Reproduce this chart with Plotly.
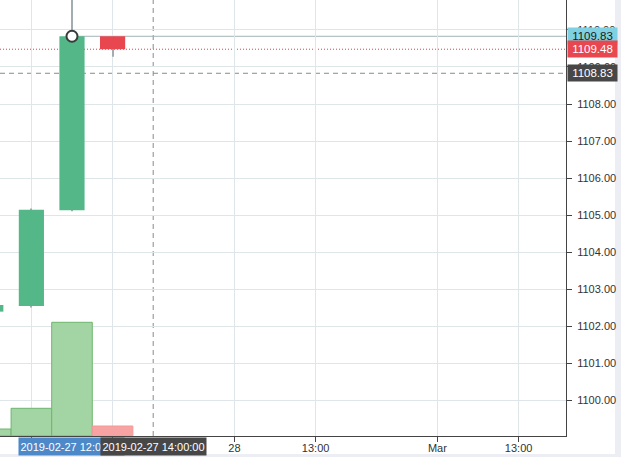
import plotly.graph_objects as go

# ---- data ----
times = ["2019-02-27 10:00:00", "2019-02-27 11:00:00", "2019-02-27 12:00:00", "2019-02-27 13:00:00"]
pos = [-2, -1, 0, 1]
opens = [1102.39, 1102.54, 1105.13, 1109.83]
highs = [1102.60, 1105.18, 1111.50, 1109.83]
lows = [1102.37, 1102.50, 1105.10, 1109.28]
closes = [1102.57, 1105.14, 1109.83, 1109.48]
volumes = [700, 2770, 11370, 1000]

x_tick_pos = [-1, 1, 4, 6, 9, 11]
x_tick_text = ["", "", "28", "13:00", "Mar", "13:00"]

hover_idx = 2                       # 2019-02-27 12:00:00 candle
last_price = 1109.48
cross_pos = 2
cross_time = "2019-02-27 14:00:00"
cross_price = 1108.83

x_range = [-1.773, 12.167]
y_range = [1099.03, 1110.81]
vol_range = [0, 43600]

# ---- styling ----
GREEN = "#53b787"
RED = "#e8474f"
FONT = "Arial, Liberation Sans, sans-serif"
GRID = "#dfe6ea"

W, H = 621, 457
L, R, T, B = 0, 55, 0, 21
pw, ph = W - L - R, H - T - B
px_unit = (x_range[1] - x_range[0]) / pw

fig = go.Figure()

# volume bars
vol_colors = ["#a3d4a3" if c >= o else "#f8a3a3" for o, c in zip(opens, closes)]
vol_lines = ["#6fb56f" if c >= o else "#f39a9a" for o, c in zip(opens, closes)]
fig.add_trace(go.Bar(x=pos, y=volumes, width=1.0, yaxis="y2",
                     marker=dict(color=vol_colors, line=dict(color=vol_lines, width=1)),
                     showlegend=False, hoverinfo="skip"))

# wicks (thin bars so they sit behind the bodies)
fig.add_trace(go.Bar(x=pos, base=lows, y=[h - l for h, l in zip(highs, lows)], width=px_unit,
                     marker=dict(color="#a3acb0", line=dict(width=0)),
                     showlegend=False, hoverinfo="skip"))

# candle bodies
body_colors = [GREEN if c >= o else RED for o, c in zip(opens, closes)]
fig.add_trace(go.Bar(x=pos, base=[min(o, c) for o, c in zip(opens, closes)],
                     y=[abs(c - o) for o, c in zip(opens, closes)], width=0.62,
                     marker=dict(color=body_colors, line=dict(width=0)),
                     showlegend=False, hoverinfo="skip"))

# hover circle
fig.add_trace(go.Scatter(x=[pos[hover_idx]], y=[closes[hover_idx]], mode="markers",
                         marker=dict(symbol="circle", size=11, color="white",
                                     line=dict(color="#3a3a3a", width=2)),
                         showlegend=False, hoverinfo="skip"))

shapes = [
    dict(type="line", xref="x", yref="y", x0=pos[hover_idx], x1=x_range[1],
         y0=closes[hover_idx], y1=closes[hover_idx], line=dict(color="#a3b4b8", width=1), layer="below"),
    dict(type="line", xref="paper", yref="y", x0=0, x1=1, y0=last_price, y1=last_price,
         line=dict(color="#d9434c", width=1, dash="1px,2px"), layer="below"),
    dict(type="line", xref="paper", yref="y", x0=0, x1=1, y0=cross_price, y1=cross_price,
         line=dict(color="#8a8a8a", width=1, dash="5px,4px"), layer="below"),
    dict(type="line", xref="x", yref="paper", x0=cross_pos, x1=cross_pos, y0=0, y1=1,
         line=dict(color="#8a8a8a", width=1, dash="5px,4px"), layer="below"),
    dict(type="rect", xref="paper", yref="paper", x0=615 / pw, x1=W / pw + 0.01,
         y0=-(H - ph) / ph - 0.01, y1=1.01, fillcolor="#eceef3", line=dict(width=0), layer="below"),
    dict(type="rect", xref="paper", yref="paper", x0=-0.01, x1=W / pw + 0.01,
         y0=-(H - ph) / ph - 0.01, y1=-(454 - ph) / ph, fillcolor="#eceef3", line=dict(width=0), layer="below"),
]

def ylabel(v, bg, fg):
    return dict(xref="paper", yref="y", x=1, y=v, xanchor="left", yanchor="middle", xshift=1,
                text=f"{v:.2f}", showarrow=False, bgcolor=bg, width=47, height=14, borderpad=1,
                font=dict(family=FONT, size=11.5, color=fg))

def xlabel(p, text, bg):
    return dict(xref="x", yref="paper", x=p, y=0, xanchor="center", yanchor="top", yshift=-1,
                text=text, showarrow=False, bgcolor=bg, width=103, height=15, borderpad=1,
                font=dict(family=FONT, size=11, color="white"))

annotations = [
    ylabel(closes[hover_idx], "#7fd0e0", "#1a1a1a"),
    ylabel(last_price, RED, "white"),
    ylabel(cross_price, "#474747", "white"),
    xlabel(pos[hover_idx], times[hover_idx], "#4d88c8"),
    xlabel(cross_pos, cross_time, "#474747"),
]

fig.update_layout(
    width=W, height=H, margin=dict(l=L, r=R, t=T, b=B),
    paper_bgcolor="white", plot_bgcolor="white",
    font=dict(family=FONT, size=11, color="#333"),
    barmode="overlay",
    xaxis=dict(range=x_range, tickvals=x_tick_pos, ticktext=x_tick_text, showgrid=True,
               gridcolor=GRID, gridwidth=1, zeroline=False, showline=True, linecolor="#444",
               linewidth=1, ticks="outside", ticklen=5, tickcolor="#444", fixedrange=True,
               ticklabelstandoff=-3,
               tickfont=dict(family=FONT, size=11, color="#333")),
    yaxis=dict(range=y_range, side="right", dtick=1, tick0=1100, tickformat=".2f",
               showgrid=True, gridcolor=GRID, zeroline=False, showline=True, linecolor="#444",
               linewidth=1, ticks="outside", ticklen=5, tickcolor="#444", fixedrange=True,
               ticklabelstandoff=3,
               tickfont=dict(family=FONT, size=11, color="#333")),
    yaxis2=dict(range=vol_range, overlaying="y", visible=False, fixedrange=True),
    shapes=shapes, annotations=annotations, showlegend=False,
)

fig.write_html("out.html", config={"displayModeBar": False},
               post_script="document.body.style.margin='0';document.body.style.padding='0';")
